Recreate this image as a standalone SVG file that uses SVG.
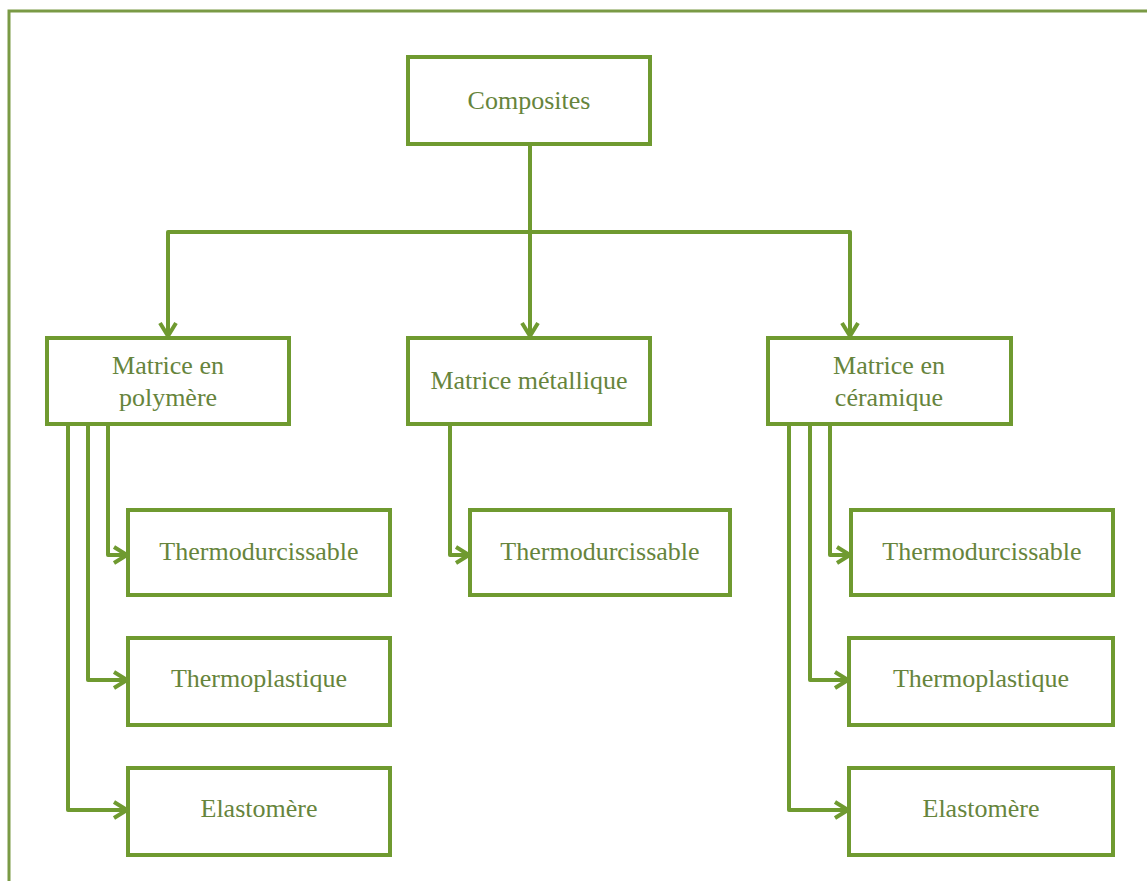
<svg xmlns="http://www.w3.org/2000/svg" width="1147" height="881" viewBox="0 0 1147 881">
<defs>
<marker id="arr" markerUnits="userSpaceOnUse" markerWidth="20" markerHeight="22" viewBox="0 0 20 22" refX="17" refY="11" orient="auto">
<path d="M4,3 L17,11 L4,19" fill="none" stroke="#6f9a30" stroke-width="4" stroke-linejoin="miter"/>
</marker>
</defs>
<style>
.box{fill:#ffffff;stroke:#6f9a30;stroke-width:4}
.lbl{font-family:"Liberation Serif","Times New Roman",serif;font-size:26px;fill:#66843c;text-anchor:middle}
.con{fill:none;stroke:#6f9a30;stroke-width:4;stroke-linejoin:round}
</style>
<rect x="0" y="0" width="1147" height="881" fill="#ffffff"/>
<path d="M9,890 L9,11 L1160,11" fill="none" stroke="#7a9a45" stroke-width="3"/>
<g id="connectors">
<path class="con" d="M530,144 L530,336" marker-end="url(#arr)"/>
<path class="con" d="M530,232 L168,232 L168,336" marker-end="url(#arr)"/>
<path class="con" d="M530,232 L850,232 L850,336" marker-end="url(#arr)"/>
<path class="con" d="M108,424 L108,555 L127,555" marker-end="url(#arr)"/>
<path class="con" d="M88,424 L88,680 L127,680" marker-end="url(#arr)"/>
<path class="con" d="M68,424 L68,810 L127,810" marker-end="url(#arr)"/>
<path class="con" d="M450,424 L450,555 L469,555" marker-end="url(#arr)"/>
<path class="con" d="M830,424 L830,555 L850,555" marker-end="url(#arr)"/>
<path class="con" d="M810,424 L810,680 L848,680" marker-end="url(#arr)"/>
<path class="con" d="M789,424 L789,810 L848,810" marker-end="url(#arr)"/>
</g>
<g id="composites">
<rect class="box" x="408" y="57" width="242" height="87"/>
<text class="lbl" x="529" y="109">Composites</text>
</g>
<g id="polymere">
<rect class="box" x="47" y="338" width="242" height="86"/>
<text class="lbl" x="168" y="374">Matrice en</text>
<text class="lbl" x="168" y="406">polymère</text>
</g>
<g id="metallique">
<rect class="box" x="408" y="338" width="242" height="86"/>
<text class="lbl" x="529" y="389">Matrice métallique</text>
</g>
<g id="ceramique">
<rect class="box" x="768" y="338" width="243" height="86"/>
<text class="lbl" x="889" y="374">Matrice en</text>
<text class="lbl" x="889" y="406">céramique</text>
</g>
<g id="poly-thermodur">
<rect class="box" x="128" y="510" width="262" height="85"/>
<text class="lbl" x="259" y="560">Thermodurcissable</text>
</g>
<g id="poly-thermoplast">
<rect class="box" x="128" y="638" width="262" height="87"/>
<text class="lbl" x="259" y="687">Thermoplastique</text>
</g>
<g id="poly-elastomere">
<rect class="box" x="128" y="768" width="262" height="87"/>
<text class="lbl" x="259" y="817">Elastomère</text>
</g>
<g id="met-thermodur">
<rect class="box" x="470" y="510" width="260" height="85"/>
<text class="lbl" x="600" y="560">Thermodurcissable</text>
</g>
<g id="cer-thermodur">
<rect class="box" x="851" y="510" width="262" height="85"/>
<text class="lbl" x="982" y="560">Thermodurcissable</text>
</g>
<g id="cer-thermoplast">
<rect class="box" x="849" y="638" width="264" height="87"/>
<text class="lbl" x="981" y="687">Thermoplastique</text>
</g>
<g id="cer-elastomere">
<rect class="box" x="849" y="768" width="264" height="87"/>
<text class="lbl" x="981" y="817">Elastomère</text>
</g>
</svg>
